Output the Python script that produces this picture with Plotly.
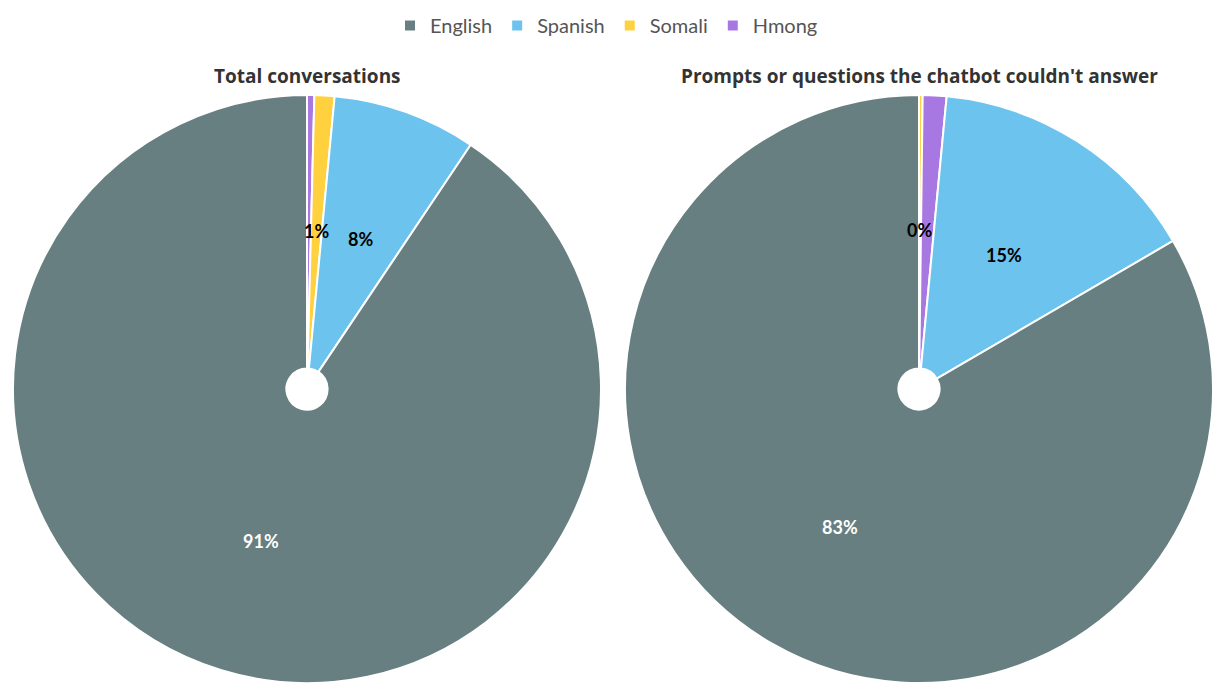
import math
import plotly.graph_objects as go

W, H = 1213, 683

languages = ["English", "Spanish", "Somali", "Hmong"]
colors = ["#677f80", "#6cc3ed", "#ffd13f", "#a778e2"]

total_values = [90.6, 7.9, 1.1, 0.4]
unanswered_values = [83.4, 15.1, 0.2, 1.3]

# which slice labels are visible (the Hmong label is hidden in the reference)
total_show = [True, True, True, False]
unanswered_show = [True, True, True, False]

titles = ["Total conversations", "Prompts or questions the chatbot couldn't answer"]

# layout (pixels)
R = 294
centers = [(307, 389), (919, 389)]
HOLE = 0.07

fig = go.Figure()
annotations = []

for k, (vals, show, (cx, cy), title) in enumerate(zip(
        [total_values, unanswered_values], [total_show, unanswered_show], centers, titles)):
    x0, x1 = (cx - R) / W, (cx + R) / W
    y0, y1 = (H - (cy + R)) / H, (H - (cy - R)) / H
    # slices run clockwise from 12 o'clock, smallest first
    order = sorted(range(len(vals)), key=lambda i: vals[i])
    fig.add_trace(go.Pie(
        labels=[languages[i] for i in order],
        values=[vals[i] for i in order],
        sort=False, direction="clockwise", rotation=0, hole=HOLE,
        marker=dict(colors=[colors[i] for i in order], line=dict(color="white", width=2)),
        textinfo="none", hoverinfo="label+percent",
        domain=dict(x=[max(0, x0), min(1, x1)], y=[max(0, y0), min(1, y1)]),
        showlegend=(k == 0),
    ))
    tot = sum(vals)
    cum = 0.0
    for i in order:
        frac = vals[i] / tot
        mid = cum + frac / 2.0
        cum += frac
        if not show[i]:
            continue
        ang = 2 * math.pi * mid
        rl = 0.54 * R
        px = cx + rl * math.sin(ang)
        py = cy - rl * math.cos(ang)
        col = "white" if i == 0 else "black"
        annotations.append(dict(
            x=px / W, y=1 - py / H, xref="paper", yref="paper",
            text="<b>%d%%</b>" % round(frac * 100), showarrow=False,
            font=dict(size=18, color=col, family="Lato"),
            xanchor="center", yanchor="middle"))
    annotations.append(dict(
        x=cx / W, y=1 - 76 / H, xref="paper", yref="paper",
        text="<b>%s</b>" % title, showarrow=False,
        font=dict(size=19, color="#333333", family="Open Sans"),
        xanchor="center", yanchor="middle"))

fig.update_layout(
    width=W, height=H,
    margin=dict(l=0, r=0, t=0, b=0),
    paper_bgcolor="white", plot_bgcolor="white",
    font=dict(family="Lato", color="#555555"),
    legend=dict(orientation="h", x=0.5, xanchor="center", y=1 - 6 / H, yanchor="top",
                font=dict(size=20, color="#555555"), itemwidth=30,
                traceorder="reversed"),
    annotations=annotations,
)

fig.write_html("out.html")
